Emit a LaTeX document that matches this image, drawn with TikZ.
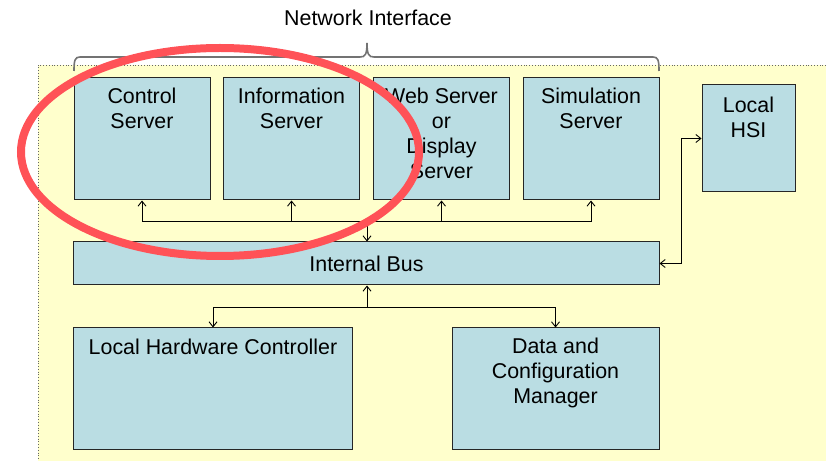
\documentclass[tikz,border=0pt]{standalone}
\usepackage{fontspec}
\setmainfont{Liberation Sans}
\usetikzlibrary{positioning,arrows.meta}
\definecolor{padyellow}{HTML}{FFFFCC}
\definecolor{unitblue}{HTML}{BADDE3}
\definecolor{ringred}{HTML}{FF5257}
\tikzset{
  unit/.style={draw=black!85, line width=1bp, fill=unitblue, inner sep=0pt},
  caption/.style={align=center, inner sep=0pt, font=\fontsize{21.4bp}{25bp}\selectfont},
  conn/.style={line width=0.9bp, >={Straight Barb[length=5bp,width=8bp]}},
}
\begin{document}
\begin{tikzpicture}[x=1bp, y=-1bp]
\useasboundingbox (0,0) rectangle (826,461);
% background panel
\fill[padyellow] (38,65) rectangle (826,461);
\draw[black!60, dotted, line width=0.8bp] (826,65) -- (38,65) -- (38,461);
% brace and its title
\draw[black!55, line width=1.6bp] (74,71) .. controls (74,60) and (75,57) .. (80,57) -- (360,57)
  .. controls (365,57) and (367,55) .. (367,43) .. controls (367,55) and (369,57) .. (374,57)
  -- (653,57) .. controls (658,57) and (659,60) .. (659,71);
\node[caption] (netif) at (368,18) {Network Interface};
% edit here for the servers
\foreach \x/\n/\t in {142/ctrl/Control\\Server, 291.5/info/Information\\Server,
    441.5/web/Web Server\\or\\Display\\Server, 591/sim/Simulation\\Server}
{
\node[unit, minimum width=136bp, minimum height=122bp] (\n) at (\x,139) {};
\node[caption, below=10bp of \n.north] (\n-txt) {\t};
}
\node[unit, minimum width=93bp, minimum height=107bp] (hsi) at (748.5,138.5) {};
\node[caption, below=12bp of hsi.north] (hsi-txt) {Local\\HSI};
\node[unit, minimum width=585bp, minimum height=43bp] (bus) at (366.5,263.5) {};
\node[caption] (bus-txt) at (bus) {Internal Bus};
\node[unit, minimum width=278bp, minimum height=121bp] (lhc) at (213,388.5) {};
\node[caption, below=11bp of lhc.north] (lhc-txt) {Local Hardware Controller};
\node[unit, minimum width=207bp, minimum height=121bp] (dcm) at (555.5,388.5) {};
\node[caption, below=10bp of dcm.north] (dcm-txt) {Data and\\Configuration\\Manager};
% connectors
\coordinate (jtop) at (367,221);
\coordinate (jlow) at (367,307);
\foreach \n in {ctrl,info,web,sim} % edit here for the server arrows
\draw[conn,->] (jtop) -| (\n);
\draw[conn,->] (jtop) -- (jtop |- bus.north);
\draw[conn,->] (jlow) -- (jlow |- bus.south);
\draw[conn,->] (jlow) -| (lhc);
\draw[conn,->] (jlow) -| (dcm);
\draw[conn,<->] (bus.east) -- ++(22,0) |- (hsi);
% highlight ring
\draw[ringred, line width=8bp] (220,152) ellipse [x radius=199, y radius=104];
\end{tikzpicture}
\end{document}
